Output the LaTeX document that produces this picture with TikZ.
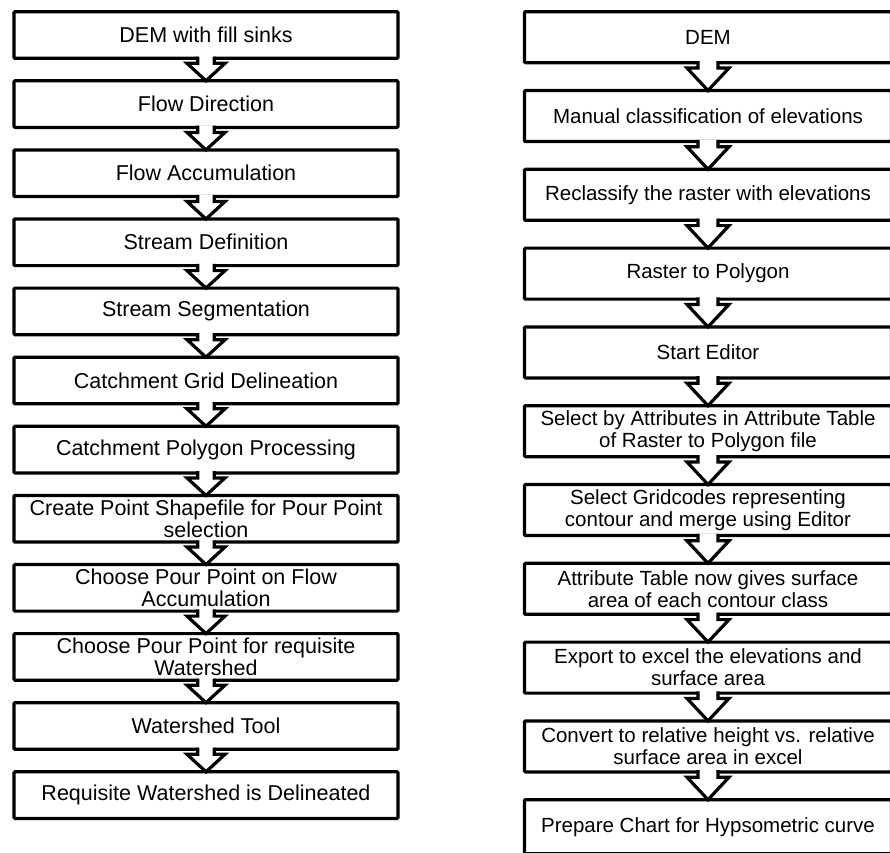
\documentclass[tikz,border=0pt]{standalone}
\usepackage{fontspec}
\setmainfont{Liberation Sans}
\usetikzlibrary{calc}
\tikzset{
  lbox/.style={draw=black, line width=3.2pt, fill=white, rounded corners=1pt, outer sep=0pt, inner sep=0pt,
    minimum width=384pt, minimum height=46.6pt, align=center, font=\fontsize{21.5}{22}\selectfont},
  rbox/.style={draw=black, line width=3.2pt, fill=white, rounded corners=1pt, outer sep=0pt, inner sep=0pt,
    minimum width=367pt, minimum height=51pt, align=center, font=\fontsize{20.5}{22}\selectfont},
  arrowst/.style={draw=black, fill=white, line width=3.2pt, line join=miter}
}
\newcommand\blockarr[5]{%
  \fill[white] ($(#1.south)+(-#3,-1.9)$) rectangle ($(#1.south)+(#3,#5)$);
  \filldraw[arrowst] ($(#1.south)+(-#3,-1.7)$) -- ($(#1.south)+(-#3,#5)$) -- ($(#1.south)+(-#4,#5)$) -- (#2.north)
     -- ($(#1.south)+(#4,#5)$) -- ($(#1.south)+(#3,#5)$) -- ($(#1.south)+(#3,-1.7)$);
}
\begin{document}
\begin{tikzpicture}[x=1pt,y=-1pt]
\useasboundingbox (0,0) rectangle (890,852);
\clip (0,0) rectangle (890,852);
\fill[white] (0,0) rectangle (890,852);
% left column
\node[lbox] (L1) at (206,35.0) {DEM with fill sinks};
\node[lbox] (L2) at (206,104.1) {Flow Direction};
\node[lbox] (L3) at (206,173.2) {Flow Accumulation};
\node[lbox] (L4) at (206,242.3) {Stream Definition};
\node[lbox] (L5) at (206,311.4) {Stream Segmentation};
\node[lbox] (L6) at (206,380.5) {Catchment Grid Delineation};
\node[lbox] (L7) at (206,449.6) {Catchment Polygon Processing};
\node[lbox] (L8) at (206,518.7) {Create Point Shapefile for Pour Point\\selection};
\node[lbox] (L9) at (206,587.8) {Choose Pour Point on Flow\\Accumulation};
\node[lbox] (L10) at (206,656.9) {Choose Pour Point for requisite\\Watershed};
\node[lbox] (L11) at (206,726.0) {Watershed Tool};
\node[lbox] (L12) at (206,795.1) {Requisite Watershed is Delineated};
% right column
\node[rbox] (R1) at (708,37.2) {DEM};
\node[rbox] (R2) at (708,116.0) {Manual classification of elevations};
\node[rbox] (R3) at (708,194.8) {Reclassify the raster with elevations};
\node[rbox] (R4) at (708,273.6) {Raster to Polygon};
\node[rbox] (R5) at (708,352.4) {Start Editor};
\node[rbox] (R6) at (708,431.2) {Select by Attributes in Attribute Table\\of Raster to Polygon file};
\node[rbox] (R7) at (708,510.0) {Select Gridcodes representing\\contour and merge using Editor};
\node[rbox] (R8) at (708,588.8) {Attribute Table now gives surface\\area of each contour class};
\node[rbox] (R9) at (708,667.6) {Export to excel the elevations and\\surface area};
\node[rbox] (R10) at (708,746.4) {Convert to relative height vs. relative\\surface area in excel};
\node[rbox, minimum height=54pt] (R11) at (708,826.7) {Prepare Chart for Hypsometric curve};
% arrows
\foreach \a/\b in {L1/L2,L2/L3,L3/L4,L4/L5,L5/L6,L6/L7,L7/L8,L8/L9,L9/L10,L10/L11,L11/L12}{
  \blockarr{\a}{\b}{8.3}{19}{5}
}
\foreach \a/\b in {R1/R2,R2/R3,R3/R4,R4/R5,R5/R6,R6/R7,R7/R8,R8/R9,R9/R10,R10/R11}{
  \blockarr{\a}{\b}{10}{21}{5.3}
}
\end{tikzpicture}
\end{document}
